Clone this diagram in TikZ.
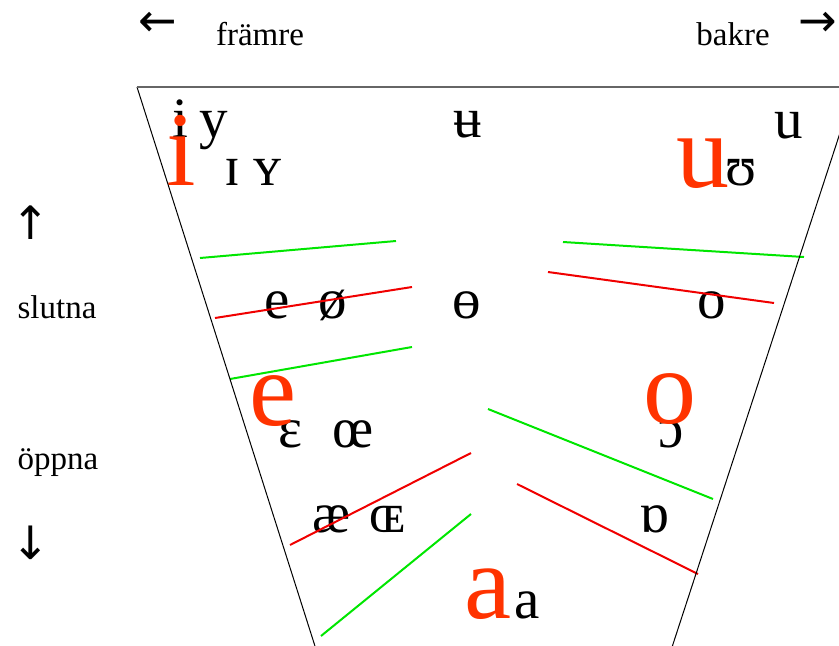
\documentclass[tikz,border=0pt]{standalone}
\usepackage{fontspec}
\setmainfont{Liberation Serif}
\newfontfamily\arrowfont{DejaVu Sans}
\usetikzlibrary{positioning}
\definecolor{vowel_red}{RGB}{255,51,0}
\definecolor{line_red}{RGB}{240,0,0}
\definecolor{line_green}{RGB}{0,230,0}

\begin{document}
\begin{tikzpicture}[
        x=1pt, y=-1pt,
        % Styles
        lbl/.style={font=\fontsize{33}{40}\selectfont, inner sep=0pt, anchor=base},
        pointer/.style={font=\arrowfont\fontsize{46}{50}\selectfont, inner sep=0pt},
        sym/.style={font=\fontsize{57}{60}\selectfont, inner sep=0pt, anchor=base},
        big_sym/.style={font=\fontsize{106}{110}\selectfont, text=vowel_red, inner sep=0pt, anchor=base},
        side/.style={draw=black, line width=1pt},
        top_side/.style={draw=black!60, line width=2pt},
        green_line/.style={draw=line_green, line width=2pt},
        red_line/.style={draw=line_red, line width=2pt}
    ]
    \useasboundingbox (0,0) rectangle (839,646);
    \clip (0,0) rectangle (839,646);

    % Axis labels
    \node[lbl] (front) at (260,45) {främre};
    \node[pointer] (arrow_left) at (158,24) {←};
    \node[lbl] (back) at (733,45) {bakre};
    \node[pointer] (arrow_right) at (818,24) {→};
    \node[pointer] (arrow_up) at (31,223) {↑};
    \node[lbl] (close) at (57,318) {slutna};
    \node[lbl] (open) at (58,469) {öppna};
    \node[pointer] (arrow_down) at (31,543) {↓};

    % IPA vowels (black)
    \node[sym] (sym_i) at (180,137) {i};
    \node[sym] (sym_y) at (214,137) {y};
    \node[sym] (sym_barred_u) at (468,137) {ʉ};
    \node[sym] (sym_u) at (789,138) {u};
    \node[sym] (sym_small_i) at (232,185) {ɪ};
    \node[sym] (sym_small_y) at (268,185) {ʏ};
    \node[sym] (sym_upsilon) at (741,185) {ʊ};
    \node[sym] (sym_e) at (277,318) {e};
    \node[sym] (sym_slashed_o) at (333,318) {ø};
    \node[sym] (sym_barred_o) at (467,318) {ɵ};
    \node[sym] (sym_o) at (712,318) {o};
    \node[sym] (sym_epsilon) at (290,447) {ɛ};
    \node[sym] (sym_oe) at (353,447) {œ};
    \node[sym] (sym_open_o) at (671,447) {ɔ};
    \node[sym] (sym_ae) at (332,532) {æ};
    \node[sym] (sym_small_oe) at (387,532) {ɶ};
    \node[sym] (sym_turned_alpha) at (654,532) {ɒ};
    \node[sym] (sym_a) at (527,618) {a};

    % Swedish vowels (red)
    \node[big_sym] (red_i) at (181,185) {i};
    \node[big_sym] (red_u) at (703,187) {u};
    \node[big_sym] (red_e) at (273,425) {e};
    \node[big_sym] (red_o) at (670,423) {o};
    \node[big_sym] (red_a) at (488,618) {a};

    % Boundaries
    \draw[green_line] (200,258) -- (396,241);
    \draw[red_line] (215,318) -- (412,287);
    \draw[green_line] (230,379) -- (412,347);
    \draw[green_line] (563,242) -- (804,257);
    \draw[red_line] (548,272) -- (774,303);
    \draw[green_line] (488,409) -- (713,499);
    \draw[red_line] (290,545) -- (471,453);
    \draw[red_line] (517,484) -- (698,574);
    \draw[green_line] (321,636) -- (471,514);

    % Chart outline
    \draw[side] (137,87) -- (328,687);
    \draw[side] (855,87) -- (659,687);
    \draw[top_side] (137,87) -- (855,87);

\end{tikzpicture}
\end{document}
